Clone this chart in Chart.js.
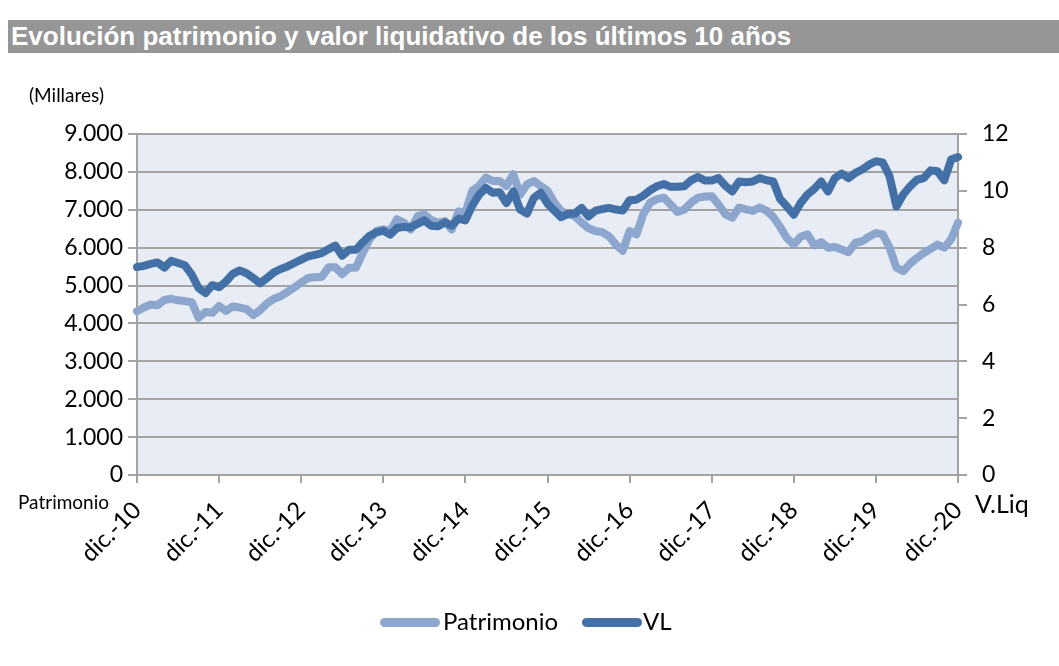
<!DOCTYPE html>
<html>
<head>
<meta charset="utf-8">
<script src="https://cdn.jsdelivr.net/npm/chart.js@4"></script>
<style>
    body { margin: 0; background: #fff; width: 1059px; height: 666px; position: relative; overflow: hidden; font-family: Lato, sans-serif; }
    #chart { position: absolute; left: 0; top: 0; }
    .txt { position: absolute; color: #000; white-space: nowrap; }
    #titleBar { position: absolute; left: 8px; top: 20px; width: 1051px; height: 33px; background: #969696; }
    #titleBar span { position: absolute; left: 3px; top: 1px; color: #fff; font: bold 26px "Liberation Sans", Arial, sans-serif; }
    .legLine { position: absolute; height: 9px; border-radius: 5px; }
</style>
</head>
<body>
<canvas id="chart" width="1059" height="666"></canvas>
<div id="titleBar"><span>Evolución patrimonio y valor liquidativo de los últimos 10 años</span></div>
<div class="txt" style="left:29px; top:83px; font-size:19px;">(Millares)</div>
<div class="txt" style="left:18px; top:490px; font-size:19px;">Patrimonio</div>
<div class="txt" style="left:975px; top:488px; font-size:25px;">V.Liq</div>
<div class="legLine" style="left:380px; top:618px; width:60px; background:#8CA6CD;"></div>
<div class="txt" style="left:443px; top:606px; font-size:24px;">Patrimonio</div>
<div class="legLine" style="left:582px; top:618px; width:60px; background:#4270A7;"></div>
<div class="txt" style="left:643px; top:606px; font-size:24px;">VL</div>
<script>
document.addEventListener('DOMContentLoaded', function () {

    // etiquetas del eje X (una cada diciembre)
    const tickLabels = ['dic.-10', 'dic.-11', 'dic.-12', 'dic.-13', 'dic.-14', 'dic.-15',
        'dic.-16', 'dic.-17', 'dic.-18', 'dic.-19', 'dic.-20'];
    const monthNames = ['dic.', 'ene.', 'feb.', 'mar.', 'abr.', 'may.', 'jun.', 'jul.', 'ago.', 'sep.', 'oct.', 'nov.'];

    // patrimonio mensual (miles)
    const patrimonio = [
        4320, 4420, 4500, 4480, 4620, 4650, 4610, 4590, 4560, 4150, 4300, 4280,
        4460, 4330, 4450, 4420, 4380, 4220, 4350, 4530, 4650, 4720, 4830, 4950,
        5080, 5200, 5220, 5230, 5480, 5480, 5300, 5470, 5470, 5860, 6220, 6440,
        6480, 6440, 6750, 6660, 6480, 6830, 6880, 6730, 6660, 6700, 6480, 6960,
        6920, 7500, 7630, 7850, 7760, 7760, 7630, 7940, 7400, 7670, 7760, 7630,
        7500, 7190, 6970, 6880, 6830, 6660, 6510, 6440, 6410, 6300, 6080, 5920,
        6440, 6350, 6880, 7190, 7280, 7320, 7140, 6940, 7010, 7190, 7320, 7350,
        7360, 7140, 6880, 6790, 7060, 7010, 6970, 7060, 6980, 6810, 6550, 6250,
        6080, 6290, 6350, 6060, 6150, 6000, 6020, 5950, 5880, 6130, 6170, 6290,
        6390, 6350, 6000, 5470, 5380, 5580, 5730, 5860, 5970, 6080, 6000, 6220,
        6660
    ];

    // valor liquidativo mensual
    const vl = [
        7.32, 7.36, 7.43, 7.48, 7.30, 7.54, 7.46, 7.38, 7.05, 6.58, 6.40, 6.68,
        6.61, 6.81, 7.08, 7.20, 7.10, 6.93, 6.75, 6.93, 7.13, 7.25, 7.34, 7.46,
        7.58, 7.69, 7.75, 7.81, 7.95, 8.07, 7.72, 7.93, 7.93, 8.19, 8.42, 8.54,
        8.60, 8.46, 8.69, 8.73, 8.71, 8.84, 8.96, 8.77, 8.75, 8.89, 8.77, 9.02,
        8.96, 9.48, 9.87, 10.10, 9.93, 9.95, 9.57, 9.98, 9.34, 9.20, 9.75, 9.93,
        9.55, 9.30, 9.07, 9.19, 9.20, 9.40, 9.10, 9.30, 9.36, 9.40, 9.34, 9.31,
        9.67, 9.69, 9.83, 10.02, 10.16, 10.24, 10.14, 10.14, 10.16, 10.37, 10.49, 10.36,
        10.36, 10.45, 10.18, 9.98, 10.33, 10.30, 10.33, 10.45, 10.37, 10.33, 9.71, 9.45,
        9.16, 9.57, 9.87, 10.07, 10.33, 9.98, 10.45, 10.61, 10.45, 10.63, 10.75, 10.92,
        11.04, 11.00, 10.51, 9.45, 9.87, 10.16, 10.39, 10.45, 10.72, 10.69, 10.37, 11.10,
        11.19
    ];

    const months = [];
    for (let i = 0; i < patrimonio.length; i++) {
        const yr = 10 + Math.floor((i + 11) / 12);
        months.push(i % 12 === 0 ? tickLabels[i / 12] : monthNames[i % 12] + '-' + yr);
    }

    const gridColor = '#A3A3A3';
    const tickFont = { family: 'Lato', size: 23 };

    const plotBg = {
        id: 'plotBg',
        beforeDraw(chart) {
            const a = chart.chartArea;
            const ctx = chart.ctx;
            ctx.save();
            ctx.fillStyle = '#E8EDF5';
            ctx.fillRect(a.left, a.top, a.right - a.left, a.bottom - a.top);
            ctx.restore();
        }
    };

    var ctx = document.getElementById('chart').getContext('2d');
    new Chart(ctx, {
        type: 'line',
        data: {
            labels: months,
            datasets: [{
                label: 'Patrimonio',
                data: patrimonio,
                yAxisID: 'y',
                borderColor: '#8CA6CD',
                borderWidth: 8,
                order: 2
            }, {
                label: 'VL',
                data: vl,
                yAxisID: 'y1',
                borderColor: '#4270A7',
                borderWidth: 8,
                order: 1
            }]
        },
        options: {
            responsive: false,
            animation: false,
            devicePixelRatio: 1,
            layout: { padding: { top: 134, left: 0, right: 0, bottom: 0 } },
            elements: {
                point: { radius: 0 },
                line: { tension: 0, borderJoinStyle: 'round', borderCapStyle: 'round' }
            },
            plugins: {
                legend: { display: false },
                tooltip: { enabled: false }
            },
            scales: {
                x: {
                    grid: { drawOnChartArea: false, color: gridColor, lineWidth: 2, tickLength: 8 },
                    border: { display: true, color: gridColor, width: 2 },
                    ticks: {
                        autoSkip: false, minRotation: 45, maxRotation: 45, padding: 13,
                        color: '#000', font: { family: 'Lato', size: 24 },
                        callback: function (val, idx) {
                            return idx % 12 === 0 ? months[idx] : null;
                        }
                    },
                    afterFit: function (s) { s.height = 191; }
                },
                y: {
                    position: 'left',
                    min: 0, max: 9000,
                    grid: { color: gridColor, lineWidth: 2, tickLength: 9 },
                    border: { display: true, color: gridColor, width: 2 },
                    ticks: {
                        stepSize: 1000, padding: 5, color: '#000', font: tickFont,
                        callback: function (v) { return String(v).replace(/\B(?=(\d{3})+(?!\d))/g, '.'); }
                    },
                    afterFit: function (s) { s.width = 137; }
                },
                y1: {
                    position: 'right',
                    min: 0, max: 12,
                    grid: { drawOnChartArea: false, color: gridColor, lineWidth: 2, tickLength: 9 },
                    border: { display: true, color: gridColor, width: 2 },
                    ticks: { stepSize: 2, padding: 15, color: '#000', font: tickFont },
                    afterFit: function (s) { s.width = 101; }
                }
            }
        },
        plugins: [plotBg]
    });
});
</script>
</body>
</html>
